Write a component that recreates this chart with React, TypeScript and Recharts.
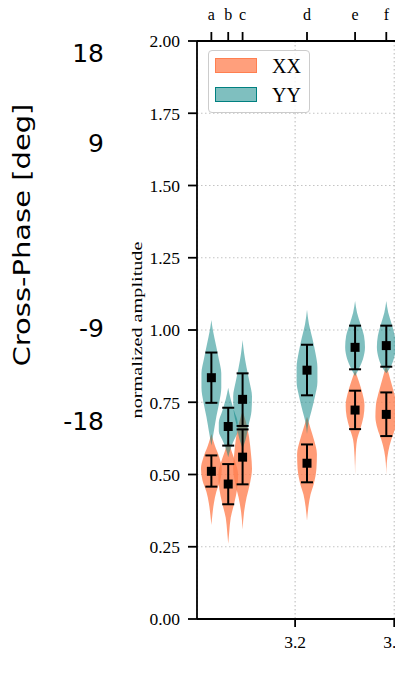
import {
  ComposedChart,
  Area,
  Scatter,
  ErrorBar,
  XAxis,
  YAxis,
  ZAxis,
  CartesianGrid,
} from "recharts";

// station frequencies (top axis letters) and the bottom axis ticks
const freqs = [3.031, 3.065, 3.094, 3.224, 3.321, 3.384];
const freqLabels = ["a", "b", "c", "d", "e", "f"];
const xTicks = [3.2, 3.4];
const yTicks = [0, 0.25, 0.5, 0.75, 1.0, 1.25, 1.5, 1.75, 2.0];

// median + spread per station
const xxMean = [0.511, 0.467, 0.56, 0.539, 0.723, 0.708];
const xxLow = [0.458, 0.397, 0.466, 0.473, 0.657, 0.633];
const xxHigh = [0.566, 0.536, 0.656, 0.604, 0.79, 0.784];
const yyMean = [0.835, 0.666, 0.76, 0.861, 0.94, 0.946];
const yyLow = [0.748, 0.6, 0.668, 0.774, 0.864, 0.873];
const yyHigh = [0.922, 0.731, 0.85, 0.949, 1.015, 1.015];

// violin outlines: levels (bottom to top) and half widths in x units
const xxViolinLevels = [
  [0.325, 0.36, 0.4, 0.44, 0.48, 0.52, 0.56, 0.6, 0.64],
  [0.26, 0.3, 0.35, 0.4, 0.45, 0.5, 0.54, 0.58, 0.62],
  [0.31, 0.37, 0.42, 0.47, 0.52, 0.57, 0.63, 0.68, 0.72],
  [0.34, 0.39, 0.43, 0.47, 0.52, 0.57, 0.62, 0.66, 0.7],
  [0.5, 0.56, 0.62, 0.66, 0.7, 0.74, 0.78, 0.82, 0.86],
  [0.5, 0.54, 0.58, 0.62, 0.66, 0.7, 0.74, 0.78, 0.83, 0.88],
];
const xxViolinWidths = [
  [0, 0.002, 0.005, 0.01, 0.018, 0.021, 0.016, 0.007, 0],
  [0, 0.002, 0.005, 0.012, 0.018, 0.02, 0.015, 0.007, 0],
  [0, 0.003, 0.008, 0.015, 0.019, 0.017, 0.013, 0.007, 0],
  [0, 0.003, 0.007, 0.014, 0.019, 0.02, 0.014, 0.007, 0],
  [0, 0.001, 0.004, 0.011, 0.017, 0.019, 0.015, 0.008, 0],
  [0, 0.001, 0.004, 0.01, 0.018, 0.022, 0.021, 0.016, 0.008, 0],
];
const yyViolinLevels = [
  [0.6, 0.62, 0.65, 0.7, 0.75, 0.8, 0.85, 0.9, 0.95, 1.0, 1.035],
  [0.56, 0.59, 0.62, 0.65, 0.68, 0.72, 0.76, 0.8],
  [0.59, 0.62, 0.67, 0.72, 0.77, 0.82, 0.87, 0.92, 0.965],
  [0.64, 0.68, 0.72, 0.77, 0.82, 0.87, 0.92, 0.97, 1.02, 1.07],
  [0.84, 0.87, 0.9, 0.94, 0.98, 1.02, 1.06, 1.1],
  [0.85, 0.87, 0.9, 0.94, 0.98, 1.02, 1.06, 1.1],
];
const yyViolinWidths = [
  [0, 0.002, 0.005, 0.01, 0.016, 0.02, 0.02, 0.015, 0.009, 0.003, 0],
  [0, 0.005, 0.012, 0.019, 0.019, 0.012, 0.005, 0],
  [0, 0.006, 0.012, 0.018, 0.019, 0.014, 0.008, 0.003, 0],
  [0, 0.003, 0.009, 0.016, 0.021, 0.021, 0.017, 0.011, 0.004, 0],
  [0, 0.009, 0.016, 0.02, 0.018, 0.011, 0.004, 0],
  [0, 0.008, 0.015, 0.019, 0.017, 0.011, 0.004, 0],
];

// left-over labels of the panel underneath
const phaseTicks = ["18", "9", "-9", "-18"];
const seriesNames = ["XX", "YY"];

const XX_COLOR = "#ff7f50";
const YY_COLOR = "#008080";
const SERIF = "'Liberation Serif', 'Times New Roman', serif";

const violinData = (levels: number[], widths: number[], center: number) =>
  levels.map((y, i) => ({ y, v: [center - widths[i], center + widths[i]] }));

const pointData = (mean: number[], low: number[], high: number[]) =>
  freqs.map((x, i) => ({ x, y: mean[i], err: [mean[i] - low[i], high[i] - mean[i]] }));

const xxPoints = pointData(xxMean, xxLow, xxHigh);
const yyPoints = pointData(yyMean, yyLow, yyHigh);

const LegendBox = () => (
  <div
    style={{
      position: "absolute",
      left: 200,
      top: 50,
      width: 102,
      height: 63,
      boxSizing: "border-box",
      border: "1.5px solid #cccccc",
      borderRadius: 4,
      background: "rgba(255,255,255,0.8)",
      fontFamily: SERIF,
      fontSize: 20,
      lineHeight: "20px",
      color: "#000",
    }}
  >
    {seriesNames.map((name, i) => (
      <div key={name}>
        <div
          style={{
            position: "absolute",
            left: 5.5,
            top: 6.5 + i * 29,
            width: 42,
            height: 15,
            boxSizing: "border-box",
            background: i === 0 ? "rgba(255,127,80,0.75)" : "rgba(0,128,128,0.5)",
            border: `1.5px solid ${i === 0 ? XX_COLOR : YY_COLOR}`,
          }}
        />
        <span style={{ position: "absolute", left: 63, top: 5 + i * 29 }}>{name}</span>
      </div>
    ))}
  </div>
);

const ampLabel = () => (
  <text
    transform="translate(134, 330) rotate(-90) scale(1.35, 1)"
    textAnchor="middle"
    fontFamily={SERIF}
    fontSize={15}
    fill="#000"
  >
    normalized amplitude
  </text>
);

const yTick = (p: any) => (
  <text x={p.x} y={p.y} dy="0.36em" textAnchor="end" fontFamily={SERIF} fontSize={17.5} fill="#000">
    {Number(p.payload.value).toFixed(2)}
  </text>
);

const bottomTick = (p: any) => (
  <text x={p.x} y={p.y} dy="0.71em" textAnchor="middle" fontFamily={SERIF} fontSize={17.5} fill="#000">
    {Number(p.payload.value).toFixed(1)}
  </text>
);

const topTick = (p: any) => (
  <text x={p.x} y={p.y} textAnchor="middle" fontFamily={SERIF} fontSize={16} fill="#000">
    {freqLabels[freqs.indexOf(p.payload.value)] ?? ""}
  </text>
);

const axisLine = { stroke: "#000", strokeWidth: 1.8 };

export default function App() {
  return (
    <div style={{ position: "relative", width: 395, height: 670, marginTop: -8, overflow: "hidden" }}>
      <svg
        width={120}
        height={670}
        style={{ position: "absolute", left: 0, top: 0 }}
        fontFamily="'DejaVu Sans', sans-serif"
      >
        {phaseTicks.map((t, i) => (
          <text key={t} x={96} y={[62, 152, 337, 430][i]} textAnchor="end" fontSize={25} fill="#000">
            {t}
          </text>
        ))}
        <text
          transform="translate(22, 235) rotate(-90) scale(1.26, 1)"
          textAnchor="middle"
          fontSize={23}
          fill="#000"
        >
          Cross-Phase [deg]
        </text>
      </svg>
      <ComposedChart
        width={411}
        height={669}
        layout="vertical"
        margin={{ top: 0, right: 0, bottom: 0, left: 0 }}
        style={{ position: "absolute", left: 0, top: 0 }}
      >
        <CartesianGrid stroke="#c4c4c4" strokeDasharray="1.5 2.5" strokeWidth={1.2} />
        <XAxis
          type="number"
          dataKey="x"
          domain={[3.002, 3.45]}
          ticks={xTicks}
          interval={0}
          allowDataOverflow
          height={50}
          tick={bottomTick}
          tickSize={8}
          tickMargin={9}
          axisLine={axisLine}
          tickLine={axisLine}
        />
        <XAxis
          xAxisId="top"
          orientation="top"
          type="number"
          domain={[3.002, 3.45]}
          ticks={freqs}
          interval={0}
          allowDataOverflow
          height={41}
          tick={topTick}
          tickSize={9}
          tickMargin={12}
          axisLine={axisLine}
          tickLine={axisLine}
        />
        <YAxis
          type="number"
          dataKey="y"
          domain={[0, 2]}
          ticks={yTicks}
          interval={0}
          reversed
          allowDataOverflow
          width={189}
          tick={yTick}
          tickSize={9}
          tickMargin={8}
          axisLine={axisLine}
          tickLine={axisLine}
          label={{ content: ampLabel }}
        />
        <ZAxis range={[81, 81]} />
        {freqs.map((f, i) => (
          <Area
            key={`xx-${i}`}
            data={violinData(xxViolinLevels[i], xxViolinWidths[i], f)}
            dataKey="v"
            type="monotone"
            stroke="none"
            fill={XX_COLOR}
            fillOpacity={0.78}
            dot={false}
            activeDot={false}
            isAnimationActive={false}
          />
        ))}
        {freqs.map((f, i) => (
          <Area
            key={`yy-${i}`}
            data={violinData(yyViolinLevels[i], yyViolinWidths[i], f)}
            dataKey="v"
            type="monotone"
            stroke="none"
            fill={YY_COLOR}
            fillOpacity={0.5}
            dot={false}
            activeDot={false}
            isAnimationActive={false}
          />
        ))}
        <Scatter data={xxPoints} fill="#000" shape="square" isAnimationActive={false}>
          <ErrorBar dataKey="err" direction="y" width={6} stroke="#000" strokeWidth={2} />
        </Scatter>
        <Scatter data={yyPoints} fill="#000" shape="square" isAnimationActive={false}>
          <ErrorBar dataKey="err" direction="y" width={6} stroke="#000" strokeWidth={2} />
        </Scatter>
      </ComposedChart>
      <LegendBox />
    </div>
  );
}
